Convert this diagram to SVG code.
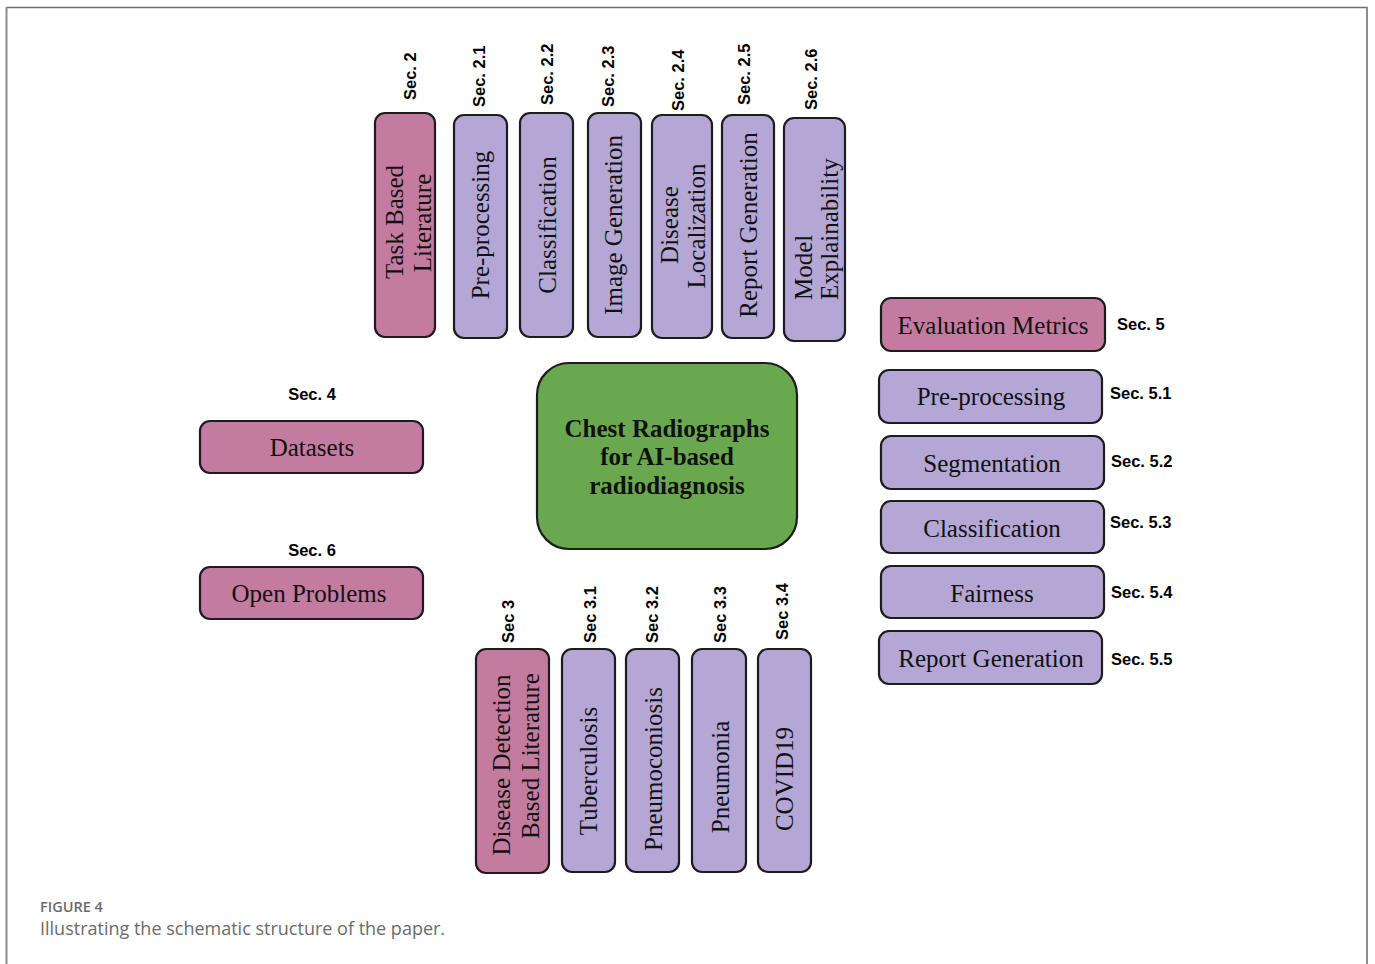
<svg xmlns="http://www.w3.org/2000/svg" width="1375" height="964" viewBox="0 0 1375 964">
<style>
.box{stroke:#1c1c1c;stroke-width:2.2}
.pink{fill:#c47ba0}
.purp{fill:#b4a7d6}
.green{fill:#6aa84f}
.t{font-family:"Liberation Serif",serif;font-size:25px;fill:#111}
.tb{font-family:"Liberation Serif",serif;font-size:25px;font-weight:bold;fill:#111;text-anchor:middle}
.s{font-family:"Liberation Sans",Arial,sans-serif;font-size:16.5px;font-weight:bold;fill:#000}
.m{text-anchor:middle}
.e{text-anchor:end}
.cap1{font-family:"Open Sans","Liberation Sans",sans-serif;font-size:14.5px;font-weight:600;fill:#6b6b6b}
.cap2{font-family:"Open Sans","Liberation Sans",sans-serif;font-size:18px;fill:#6b6b6b}
</style>
<rect width="1375" height="964" fill="#fff"/>
<g id="frame" fill="none">
<line x1="6.5" y1="7.5" x2="1368" y2="7.5" stroke="#6e6e6e" stroke-width="1.5"/>
<line x1="6.5" y1="7" x2="6.5" y2="964" stroke="#8c8c8c" stroke-width="2"/>
<line x1="1367" y1="7" x2="1367" y2="964" stroke="#8c8c8c" stroke-width="2"/>
</g>
<g id="connectors"></g>

<g id="center">
<rect class="box green" x="537" y="363" width="260" height="186" rx="32"/>
<text class="tb" x="667" y="437">Chest Radiographs</text>
<text class="tb" x="667" y="465">for AI-based</text>
<text class="tb" x="667" y="494">radiodiagnosis</text>
</g>

<g id="task-based">
<rect class="box pink" x="375" y="113" width="60" height="224" rx="10"/>
<text class="t m" transform="translate(403,222) rotate(-90)">Task Based</text>
<text class="t m" transform="translate(431,223) rotate(-90)">Literature</text>
<text class="s" transform="translate(416,100) rotate(-90)">Sec. 2</text>
</g>
<g id="pre-processing-2">
<rect class="box purp" x="454" y="115" width="53" height="223" rx="10"/>
<text class="t m" transform="translate(489,225) rotate(-90)">Pre-processing</text>
<text class="s" transform="translate(485,107) rotate(-90)">Sec. 2.1</text>
</g>
<g id="classification-2">
<rect class="box purp" x="520" y="113" width="53" height="224" rx="10"/>
<text class="t m" transform="translate(556,225) rotate(-90)">Classification</text>
<text class="s" transform="translate(553,105) rotate(-90)">Sec. 2.2</text>
</g>
<g id="image-generation">
<rect class="box purp" x="588" y="113" width="53" height="224" rx="10"/>
<text class="t m" transform="translate(622,225) rotate(-90)">Image Generation</text>
<text class="s" transform="translate(614,107) rotate(-90)">Sec. 2.3</text>
</g>
<g id="disease-localization">
<rect class="box purp" x="652" y="115" width="60" height="223" rx="10"/>
<text class="t m" transform="translate(678,225) rotate(-90)">Disease</text>
<text class="t m" transform="translate(705,226) rotate(-90)">Localization</text>
<text class="s" transform="translate(684,111) rotate(-90)">Sec. 2.4</text>
</g>
<g id="report-generation-2">
<rect class="box purp" x="722" y="115" width="52" height="223" rx="10"/>
<text class="t m" transform="translate(757,225) rotate(-90)">Report Generation</text>
<text class="s" transform="translate(750,105) rotate(-90)">Sec. 2.5</text>
</g>
<g id="model-explainability">
<rect class="box purp" x="784" y="118" width="61" height="223" rx="10"/>
<text class="t" transform="translate(812,300) rotate(-90)">Model</text>
<text class="t" transform="translate(838,300) rotate(-90)">Explainability</text>
<text class="s" transform="translate(817,110) rotate(-90)">Sec. 2.6</text>
</g>

<g id="datasets">
<rect class="box pink" x="200" y="421" width="223" height="52" rx="10"/>
<text class="t m" x="312" y="456">Datasets</text>
<text class="s m" x="312" y="400">Sec. 4</text>
</g>
<g id="open-problems">
<rect class="box pink" x="200" y="567" width="223" height="52" rx="10"/>
<text class="t m" x="309" y="602">Open Problems</text>
<text class="s m" x="312" y="556">Sec. 6</text>
</g>

<g id="evaluation-metrics">
<rect class="box pink" x="881" y="298" width="224" height="53" rx="10"/>
<text class="t m" x="993" y="334">Evaluation Metrics</text>
<text class="s" x="1117" y="330">Sec. 5</text>
</g>
<g id="pre-processing-5">
<rect class="box purp" x="879" y="370" width="223" height="53" rx="10"/>
<text class="t m" x="991" y="405">Pre-processing</text>
<text class="s" x="1110" y="399">Sec. 5.1</text>
</g>
<g id="segmentation">
<rect class="box purp" x="881" y="436" width="223" height="53" rx="10"/>
<text class="t m" x="992" y="472">Segmentation</text>
<text class="s" x="1111" y="467">Sec. 5.2</text>
</g>
<g id="classification-5">
<rect class="box purp" x="881" y="501" width="223" height="52" rx="10"/>
<text class="t m" x="992" y="537">Classification</text>
<text class="s" x="1110" y="528">Sec. 5.3</text>
</g>
<g id="fairness">
<rect class="box purp" x="881" y="566" width="223" height="52" rx="10"/>
<text class="t m" x="992" y="602">Fairness</text>
<text class="s" x="1111" y="598">Sec. 5.4</text>
</g>
<g id="report-generation-5">
<rect class="box purp" x="879" y="631" width="223" height="53" rx="10"/>
<text class="t m" x="991" y="667">Report Generation</text>
<text class="s" x="1111" y="665">Sec. 5.5</text>
</g>

<g id="disease-detection">
<rect class="box pink" x="476" y="649" width="73" height="224" rx="10"/>
<text class="t m" transform="translate(510,765) rotate(-90)">Disease Detection</text>
<text class="t m" transform="translate(539,756) rotate(-90)">Based Literature</text>
<text class="s" transform="translate(514,643) rotate(-90)">Sec 3</text>
</g>
<g id="tuberculosis">
<rect class="box purp" x="562" y="649" width="53" height="223" rx="10"/>
<text class="t m" transform="translate(597,771) rotate(-90)">Tuberculosis</text>
<text class="s" transform="translate(596,643) rotate(-90)">Sec 3.1</text>
</g>
<g id="pneumoconiosis">
<rect class="box purp" x="626" y="649" width="53" height="223" rx="10"/>
<text class="t m" transform="translate(662,769) rotate(-90)">Pneumoconiosis</text>
<text class="s" transform="translate(658,643) rotate(-90)">Sec 3.2</text>
</g>
<g id="pneumonia">
<rect class="box purp" x="692" y="649" width="54" height="223" rx="10"/>
<text class="t m" transform="translate(729,777) rotate(-90)">Pneumonia</text>
<text class="s" transform="translate(726,643) rotate(-90)">Sec 3.3</text>
</g>
<g id="covid19">
<rect class="box purp" x="758" y="649" width="53" height="223" rx="10"/>
<text class="t m" transform="translate(793,779) rotate(-90)">COVID19</text>
<text class="s" transform="translate(788,640) rotate(-90)">Sec 3.4</text>
</g>

<g id="caption">
<text class="cap1" x="40" y="912">FIGURE 4</text>
<text class="cap2" x="40" y="935">Illustrating the schematic structure of the paper.</text>
</g>
</svg>
